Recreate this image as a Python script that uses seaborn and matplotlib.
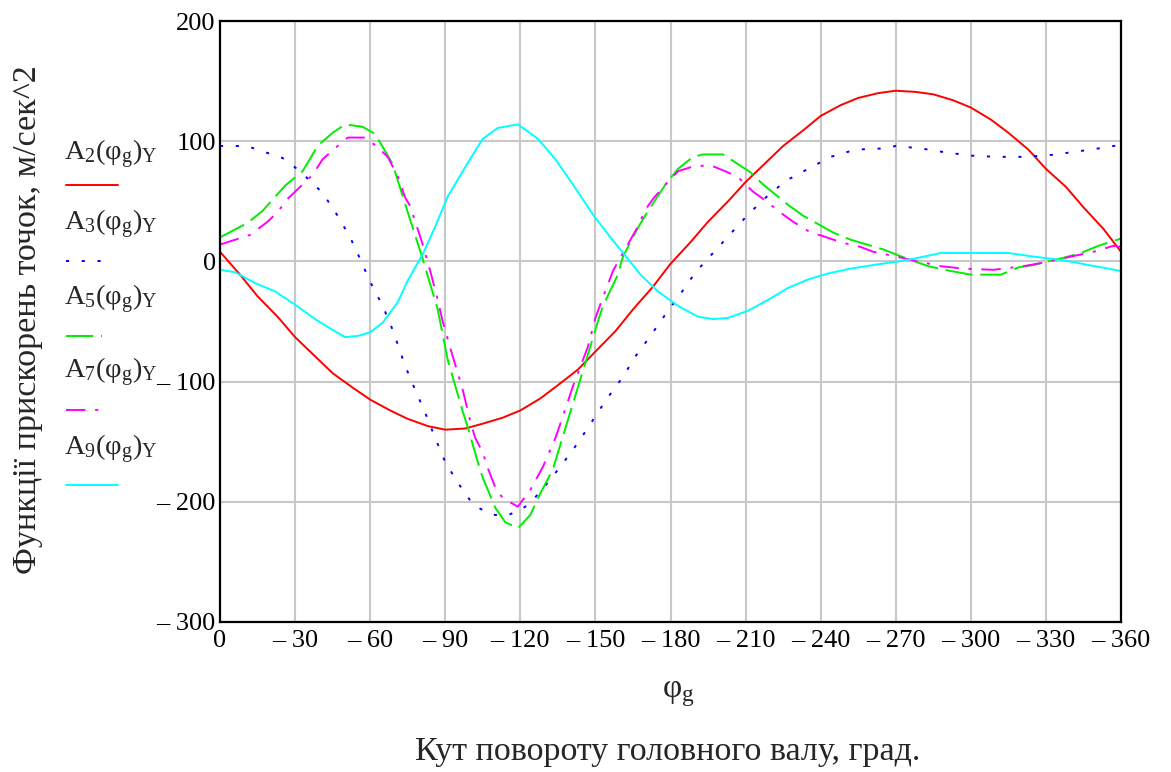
import matplotlib
matplotlib.use("Agg")
import matplotlib.pyplot as plt
from matplotlib.lines import Line2D
import seaborn as sns
import pandas as pd

# ---------------- data ----------------
x_ticks = [0, 30, 60, 90, 120, 150, 180, 210, 240, 270, 300, 330, 360]
y_ticks = [-300, -200, -100, 0, 100, 200]

a2_deg = [0, 8, 15, 23, 30, 38, 45, 53, 60, 68, 75, 83, 90, 98, 105, 113, 120, 128, 135,
          143, 150, 158, 165, 173, 180, 188, 195, 203, 210, 218, 225, 233, 240, 248, 255,
          263, 270, 278, 285, 293, 300, 308, 315, 323, 330, 338, 345, 353, 360]
a2_val = [8, -11, -29, -46, -63, -79, -93, -105, -115, -124, -131, -137, -140, -139, -135,
          -130, -124, -114, -103, -90, -75, -58, -40, -21, -2, 16, 33, 50, 66, 82, 96, 109,
          121, 130, 136, 140, 142, 141, 139, 134, 128, 118, 107, 93, 77, 62, 45, 27, 8]

a3_deg = [0, 11, 16, 21, 25, 29, 34, 41, 47, 52, 56, 60, 65, 69, 74, 78, 82, 86, 90, 95,
          101, 105, 110, 115, 120, 124, 131, 137, 143, 149, 154, 161, 166, 172, 178, 184,
          190, 197, 204, 211, 218, 226, 235, 244, 254, 265, 270, 280, 289, 300, 310, 320,
          330, 341, 351, 360]
a3_val = [96, 96, 92, 89, 86, 80, 71, 57, 38, 20, 2, -17, -37, -57, -87, -107, -126, -147,
          -167, -184, -202, -207, -211, -211, -207, -201, -184, -168, -151, -132, -116, -96,
          -79, -62, -44, -27, -9, 7, 23, 39, 53, 67, 77, 87, 93, 94, 96, 94, 91, 88, 87, 87,
          88, 91, 94, 97]

a5_deg = [0, 11, 17, 26, 33, 39, 45, 50, 57, 62, 69, 75, 81, 87, 91, 97, 99, 103, 105, 110,
          114, 119, 124, 127, 133, 139, 144, 151, 153, 159, 161, 167, 171, 178, 183, 189,
          193, 201, 212, 217, 227, 233, 245, 252, 265, 271, 283, 292, 300, 312, 319, 325,
          337, 344, 351, 360]
a5_val = [20, 32, 42, 63, 75, 96, 107, 114, 112, 106, 81, 41, 2, -40, -82, -125, -138, -167,
          -180, -205, -217, -222, -211, -197, -173, -132, -98, -50, -37, -11, 4, 28, 42, 64,
          77, 87, 89, 89, 74, 64, 47, 38, 24, 18, 10, 5, -4, -8, -11, -11, -5, -3, 3, 7, 13, 19]

a7_deg = [0, 6, 12, 19, 23, 27, 33, 37, 41, 47, 51, 58, 63, 67, 71, 74, 76, 81, 84, 87,
          89, 92, 97, 100, 102, 105, 107, 110, 113, 119, 124, 129, 134, 137, 141, 147, 150,
          153, 157, 161, 167, 170, 173, 178, 183, 189, 196, 203, 207, 213, 219, 223, 229,
          236, 241, 248, 256, 261, 268, 279, 288, 297, 309, 317, 321, 329, 340, 349, 357, 360]
a7_val = [14, 18, 22, 33, 41, 52, 64, 72, 85, 96, 103, 103, 95, 87, 71, 53, 46, 14, -8, -32,
          -50, -72, -107, -133, -147, -159, -172, -188, -197, -204, -190, -171, -147, -129,
          -104, -71, -47, -30, -8, 7, 29, 43, 52, 64, 75, 79, 80, 74, 70, 58, 49, 42, 33, 24,
          21, 16, 12, 8, 5, 0, -4, -6, -7, -5, -4, -1, 4, 8, 13, 12]

a9_deg = [0, 6, 14, 22, 30, 38, 45, 50, 55, 60, 65, 71, 75, 81, 86, 91, 99, 105, 111, 119,
          127, 134, 141, 149, 156, 163, 168, 175, 183, 191, 197, 203, 211, 219, 227, 235,
          243, 252, 261, 271, 279, 288, 301, 315, 325, 337, 347, 355, 360]
a9_val = [-7, -9, -18, -25, -36, -48, -57, -63, -62, -59, -51, -34, -16, 6, 29, 54, 82, 102,
          111, 114, 102, 85, 64, 39, 20, 2, -11, -25, -37, -46, -48, -47, -41, -32, -22, -15,
          -10, -6, -3, 0, 3, 7, 7, 7, 4, 1, -3, -6, -8]

series_labels = ["2", "3", "5", "7", "9"]

# ---------------- style ----------------
sns.set_style("white")
plt.rcParams["font.family"] = ["Liberation Serif", "DejaVu Serif"]
plt.rcParams["mathtext.fontset"] = "custom"
plt.rcParams["mathtext.rm"] = "Liberation Serif"
plt.rcParams["mathtext.it"] = "Liberation Serif:italic"
plt.rcParams["mathtext.bf"] = "Liberation Serif:bold"

fig = plt.figure(figsize=(11.71, 7.72), dpi=100)
W, H = 1171, 772
ax = fig.add_axes([220 / W, 1 - 622 / H, (1121 - 220) / W, (622 - 21) / H])

styles = [
    dict(color="#ff0000", linestyle="-"),
    dict(color="#0000ff", linestyle=(0, (1.6, 6.5))),
    dict(color="#00ee00", linestyle=(0, (14, 4))),
    dict(color="#ff00ff", linestyle=(0, (10, 5, 1.6, 5))),
    dict(color="#00ffff", linestyle="-"),
]
data = [(a2_deg, a2_val), (a3_deg, a3_val), (a5_deg, a5_val), (a7_deg, a7_val), (a9_deg, a9_val)]

for (d, v), st in zip(data, styles):
    df = pd.DataFrame({"phi": d, "A": v})
    sns.lineplot(data=df, x="phi", y="A", ax=ax, color=st["color"],
                 linestyle=st["linestyle"], linewidth=1.4, sort=False, estimator=None)

ax.set_xlim(0, 360)
ax.set_ylim(-300, 200)
ax.set_xticks(x_ticks)
ax.set_xticklabels(["0" if t == 0 else "\u2013 %d" % t for t in x_ticks])
ax.set_yticks(y_ticks)
ax.set_yticklabels([("\u2013 %d" % -t) if t < 0 else "%d" % t for t in y_ticks])
ax.tick_params(axis="both", length=0, labelsize=19, colors="black")
ax.tick_params(axis="x", pad=6)
ax.tick_params(axis="y", pad=3)
ax.grid(True, color="#c8c8c8", linewidth=1.5)
ax.set_axisbelow(True)
for s in ax.spines.values():
    s.set_visible(True)
    s.set_color("black")
    s.set_linewidth(1.6)
ax.set_xlabel("")
ax.set_ylabel("")

# y label
fig.text(28 / W, 1 - 320 / H, "Функції прискорень точок, м/сек^2", rotation=90,
         ha="center", va="center", fontsize=24.5)
# x labels
fig.text(678 / W, 1 - 694 / H, r"$\mathrm{φ}_{\mathrm{g}}$", ha="center", va="center",
         fontsize=24)
fig.text(668 / W, 1 - 752 / H, "Кут повороту головного валу, град.", ha="center",
         va="center", fontsize=24.5)

# legend (Mathcad style: label above a line sample)
label_y = [154, 224, 299, 372, 449]
line_y = [185, 261, 336, 410, 485]
line_x1 = [118, 110, 102, 100, 118]
for lab, ly, lny, x1, st in zip(series_labels, label_y, line_y, line_x1, styles):
    fig.text(64 / W, 1 - ly / H,
             r"$\mathrm{A}_{%s}(\mathrm{φ}_{\mathrm{g}})_{\mathrm{Y}}$" % lab,
             ha="left", va="center", fontsize=20.5)
    fig.add_artist(Line2D([66 / W, x1 / W], [1 - lny / H, 1 - lny / H],
                          transform=fig.transFigure, color=st["color"],
                          linestyle=st["linestyle"], linewidth=1.4))

fig.savefig("out.png", dpi=100)
